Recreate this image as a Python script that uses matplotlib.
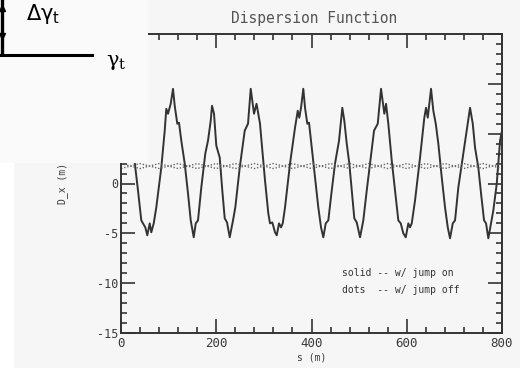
import matplotlib
matplotlib.use("Agg")
import matplotlib.pyplot as plt
from matplotlib.patches import Rectangle
from matplotlib.lines import Line2D
from matplotlib.ticker import MultipleLocator

plt.rcParams["axes.unicode_minus"] = False

# solid curve: dispersion with the jump on
s_solid = [0.0, 10.0, 20.0, 28.8, 35.7, 42.6, 46.2, 51.0, 55.2, 60.3, 63.6, 68.7, 74.1,
           84.6, 91.8, 95.1, 98.7, 104.4, 109.2, 112.8, 118.2, 121.8, 126.6, 133.8,
           140.7, 146.4, 152.7, 156.9, 161.7, 168.6, 177.0, 182.7, 188.4, 191.1,
           195.3, 200.1, 207.3, 212.7, 217.8, 222.6, 228.3, 235.2, 240.0, 249.3,
           259.8, 266.7, 272.4, 279.3, 284.6, 291.9, 295.5, 302.4, 309.3, 312.9,
           317.7, 323.4, 327.0, 331.8, 336.0, 339.6, 344.4, 354.9, 365.4, 371.1,
           374.4, 378.0, 382.8, 386.4, 391.2, 394.8, 400.5, 407.4, 414.3, 420.0,
           424.8, 429.9, 435.3, 442.5, 449.4, 457.8, 464.7, 468.9, 474.0, 479.4,
           484.5, 489.9, 495.0, 501.9, 508.8, 516.0, 522.9, 531.3, 539.1, 546.0,
           552.9, 556.5, 561.3, 568.5, 575.4, 582.3, 587.4, 592.8, 597.9, 603.3,
           606.9, 610.5, 617.4, 627.9, 636.9, 640.5, 644.1, 651.0, 655.8, 660.9,
           666.3, 673.5, 680.4, 686.1, 690.9, 696.6, 701.4, 708.3, 717.6, 726.0,
           732.9, 738.6, 743.4, 750.3, 756.0, 762.3, 766.5, 771.3, 777.0, 781.8,
           789.0, 795.9, 800.0]
d_solid = [9.0, 7.5, 5.0, 2.1, -0.7, -3.7, -4.0, -4.4, -5.2, -4.0, -4.9, -4.0, -2.4,
           1.6, 5.3, 7.5, 7.0, 8.0, 9.5, 7.8, 6.0, 6.1, 4.3, 2.0,
           -1.0, -3.7, -5.4, -4.0, -3.7, -0.4, 3.0, 4.3, 6.3, 7.8,
           7.0, 3.8, 2.6, -0.7, -3.5, -3.9, -5.4, -3.7, -2.4, 1.6,
           5.3, 6.0, 9.5, 7.0, 8.0, 6.0, 4.0, 0.3, -3.0, -4.0,
           -3.9, -4.9, -5.2, -4.0, -4.4, -4.0, -2.4, 2.0, 5.6, 7.3,
           6.6, 7.6, 9.5, 7.6, 6.0, 6.1, 3.6, 0.6, -2.4, -4.4,
           -5.4, -4.0, -3.7, -0.7, 2.0, 4.3, 7.6, 6.3, 4.0, 2.0,
           -0.7, -3.5, -3.9, -5.4, -3.7, -0.7, 2.0, 5.3, 6.0, 9.5,
           7.0, 8.0, 6.0, 2.3, -0.7, -3.7, -4.0, -5.0, -5.4, -4.0,
           -4.4, -4.0, -1.7, 2.6, 6.6, 7.6, 6.6, 9.5, 7.3, 6.0,
           4.0, 0.6, -2.4, -4.4, -5.5, -4.0, -3.7, -0.4, 2.6, 5.3,
           7.6, 6.0, 3.6, 1.6, -1.0, -3.7, -4.0, -5.5, -4.0, -2.7,
           0.0, 4.3, 5.3]

# dotted curves: jump off (two interleaved traces near D = 1.5 .. 2)
s_dots = [0, 40, 80, 120, 160, 200, 240, 280, 320, 360, 400,
          440, 480, 520, 560, 600, 640, 680, 720, 760, 800]
d_dots_a = [2.0, 1.5, 2.0, 1.5, 2.0, 1.5, 2.0, 1.5, 2.0, 1.5, 2.0,
            1.5, 2.0, 1.5, 2.0, 1.5, 2.0, 1.5, 2.0, 1.5, 2.0]
d_dots_b = [1.5, 2.0, 1.5, 2.0, 1.5, 2.0, 1.5, 2.0, 1.5, 2.0, 1.5,
            2.0, 1.5, 2.0, 1.5, 2.0, 1.5, 2.0, 1.5, 2.0, 1.5]

x_ticks = [0, 200, 400, 600, 800]
y_ticks = [-15, -10, -5, 0, 5, 10, 15]

W, H = 520, 368
ink = "#333333"
mono = "DejaVu Sans Mono"

fig = plt.figure(figsize=(W / 100, H / 100), dpi=100)
fig.patch.set_facecolor("#f6f6f6")

# axes box in pixel terms: x 121..502, y 34..333
ax = fig.add_axes([121 / W, 1 - 333 / H, (502 - 121) / W, (333 - 34) / H])
ax.set_facecolor("#f6f6f6")

ax.plot(s_solid, d_solid, color=ink, lw=1.4)
ax.plot(s_dots, d_dots_a, color="#666666", lw=1.0, ls=(0, (1, 1.3)))
ax.plot(s_dots, d_dots_b, color="#666666", lw=1.0, ls=(0, (1, 1.3)))

ax.set_xlim(0, 800)
ax.set_ylim(-15, 15)
ax.set_xticks(x_ticks)
ax.set_yticks(y_ticks)
ax.xaxis.set_minor_locator(MultipleLocator(40))
ax.yaxis.set_minor_locator(MultipleLocator(1))
ax.tick_params(which="both", direction="in", top=True, right=True,
               colors=ink, width=1.2)
ax.tick_params(which="major", length=10, pad=3)
ax.tick_params(which="minor", length=4)
ax.tick_params(axis="x", labelsize=9, labelcolor="#3a3a3a")
ax.tick_params(axis="y", labelsize=8.5, labelcolor="#3a3a3a", pad=2)
for lab in ax.get_xticklabels() + ax.get_yticklabels():
    lab.set_family(mono)
for sp in ax.spines.values():
    sp.set_color(ink)
    sp.set_linewidth(1.4)

ax.set_xlabel("s (m)", family=mono, fontsize=7, color="#3a3a3a", labelpad=2)
ax.set_ylabel("D_x (m)", family=mono, fontsize=7, color="#3a3a3a", labelpad=21)

ax.text(465, -9.0, "solid -- w/ jump on", family=mono, fontsize=7,
        color="#333333", va="center")
ax.text(465, -10.7, "dots  -- w/ jump off", family=mono, fontsize=7,
        color="#333333", va="center")

fig.text(314 / W, 1 - 18 / H, "Dispersion Function", family=mono, fontsize=10.5,
         color="#555555", ha="center", va="center")

# pasted fragment of another figure covering the top-left corner
fig.add_artist(Rectangle((0, 1 - 163 / H), 148 / W, 163 / H, transform=fig.transFigure,
                         facecolor="#fafafa", edgecolor="none", zorder=5))
fig.add_artist(Rectangle((0, 0), 14 / W, 1 - 163 / H, transform=fig.transFigure,
                         facecolor="#ffffff", edgecolor="none", zorder=5))
fig.add_artist(Line2D([0, 92 / W], [1 - 55 / H, 1 - 55 / H], transform=fig.transFigure,
                      color="black", lw=2.2, zorder=6))
fig.add_artist(Line2D([2 / W, 2 / W], [1 - 54 / H, 1.0], transform=fig.transFigure,
                      color="black", lw=2.4, zorder=6))
fig.add_artist(Line2D([2 / W], [1 - 36 / H], transform=fig.transFigure, marker="v",
                      color="black", ms=5, zorder=6))
fig.add_artist(Line2D([2 / W], [1 - 8 / H], transform=fig.transFigure, marker="^",
                      color="black", ms=5, zorder=6))
fig.text(26 / W, 1 - 14 / H, "Δγ$_\\mathregular{t}$", family="DejaVu Sans",
         fontsize=15, color="black", ha="left", va="center", zorder=7)
fig.text(106 / W, 1 - 62 / H, "γ$_\\mathregular{t}$", family="DejaVu Serif",
         fontsize=15, color="black", ha="left", va="center", zorder=7)

fig.savefig("out.png", dpi=100, facecolor=fig.get_facecolor())
